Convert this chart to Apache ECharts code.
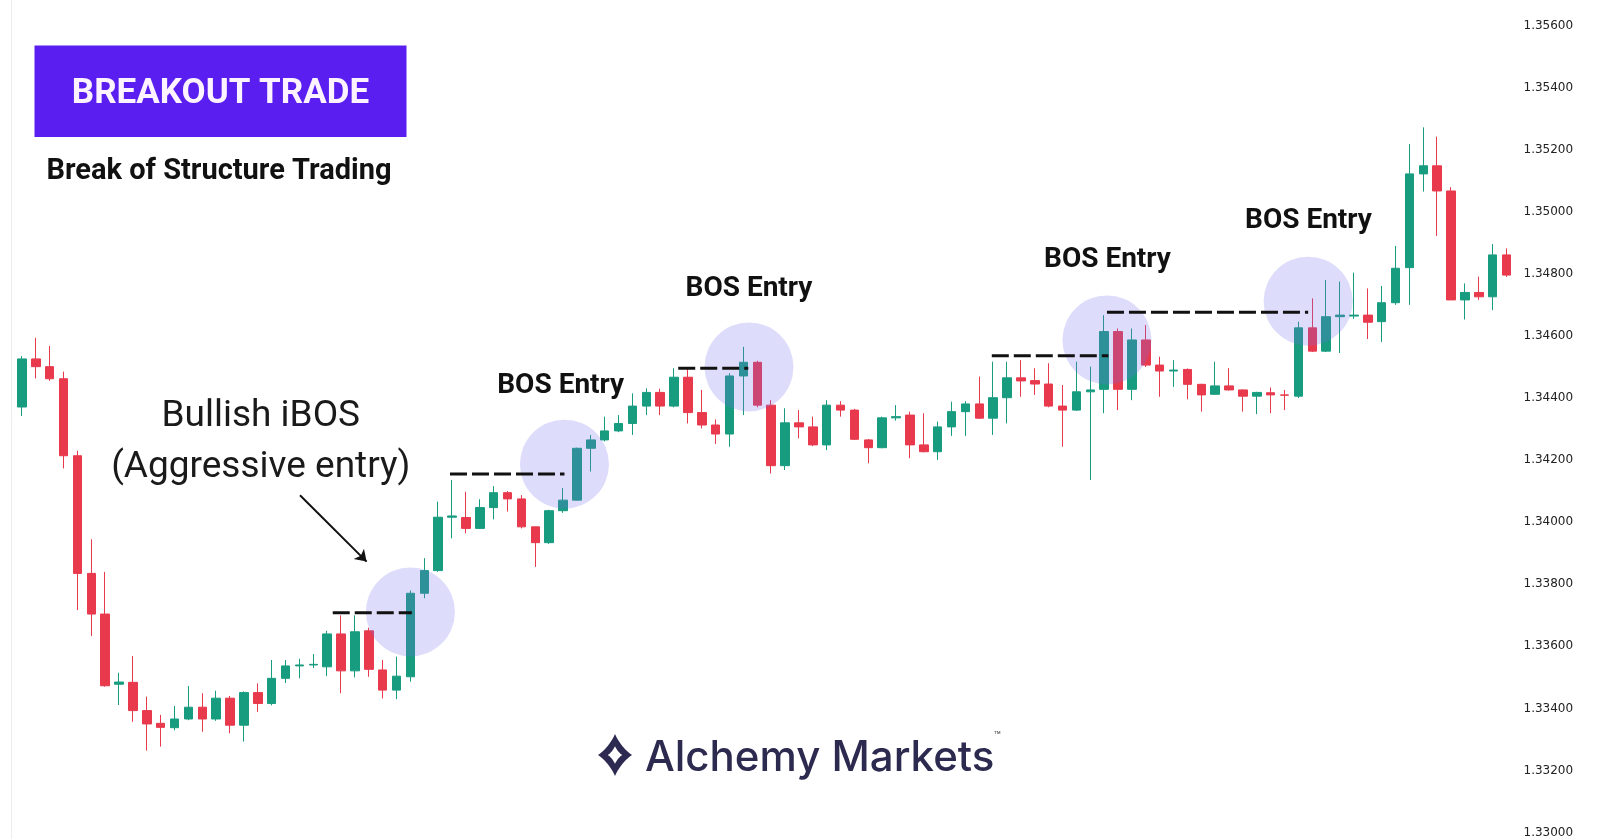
<!DOCTYPE html>
<html>
<head>
<meta charset="utf-8">
<script src="https://cdn.jsdelivr.net/npm/echarts@6/dist/echarts.min.js"></script>
<style>
html,body{margin:0;padding:0;background:#fff;}
#chart{width:1600px;height:839px;}
</style>
</head>
<body>
<div id="chart"></div>
<script>
// ---- price data (one entry per candle) ----
const openPrices = [
1.34371,1.34526,1.34501,1.34462,1.34214,1.33835,1.33704,1.33478,1.33484,1.33393,
1.33352,1.33338,1.33366,1.33404,1.33366,1.33433,1.33346,1.33451,1.33416,1.33497,
1.33537,1.33540,1.33534,1.33640,1.33521,1.33650,1.33524,1.33459,1.33502,1.33771,
1.33844,1.34016,1.34015,1.33980,1.34047,1.34095,1.34075,1.33985,1.33934,1.34037,
1.34071,1.34238,1.34265,1.34294,1.34318,1.34374,1.34418,1.34374,1.34467,1.34353,
1.34313,1.34284,1.34471,1.34515,1.34377,1.34182,1.34320,1.34307,1.34249,1.34377,
1.34361,1.34265,1.34240,1.34336,1.34345,1.34249,1.34227,1.34307,1.34356,1.34381,
1.34335,1.34401,1.34465,1.34456,1.34445,1.34374,1.34361,1.34420,1.34428,1.34614,
1.34428,1.34587,1.34506,1.34487,1.34492,1.34444,1.34412,1.34439,1.34426,1.34406,
1.34417,1.34410,1.34406,1.34626,1.34551,1.34662,1.34664,1.34667,1.34646,1.34707,
1.34820,1.35122,1.35148,1.35067,1.34716,1.34740,1.34726,1.34861];
const closePrices = [
1.34526,1.34501,1.34462,1.34214,1.33835,1.33704,1.33473,1.33485,1.33393,1.33350,
1.33339,1.33366,1.33404,1.33366,1.33433,1.33346,1.33451,1.33416,1.33497,1.33537,
1.33540,1.33542,1.33640,1.33521,1.33647,1.33526,1.33459,1.33504,1.33771,1.33844,
1.34016,1.34020,1.33980,1.34047,1.34095,1.34075,1.33985,1.33934,1.34037,1.34071,
1.34238,1.34265,1.34294,1.34318,1.34374,1.34418,1.34374,1.34467,1.34353,1.34313,
1.34284,1.34471,1.34515,1.34377,1.34182,1.34320,1.34307,1.34249,1.34377,1.34361,
1.34267,1.34240,1.34336,1.34340,1.34249,1.34227,1.34307,1.34356,1.34381,1.34335,
1.34401,1.34465,1.34455,1.34445,1.34374,1.34361,1.34420,1.34426,1.34614,1.34428,
1.34587,1.34506,1.34487,1.34490,1.34444,1.34410,1.34439,1.34426,1.34406,1.34418,
1.34410,1.34409,1.34626,1.34551,1.34662,1.34667,1.34667,1.34644,1.34707,1.34818,
1.35122,1.35148,1.35067,1.34716,1.34740,1.34726,1.34861,1.34796];
const lowPrices = [
1.34342,1.34463,1.34455,1.34173,1.33717,1.33633,1.33470,1.33411,1.33357,1.33264,
1.33277,1.33330,1.33362,1.33325,1.33360,1.33320,1.33293,1.33389,1.33410,1.33482,
1.33497,1.33530,1.33504,1.33449,1.33500,1.33502,1.33432,1.33430,1.33486,1.33755,
1.33840,1.33948,1.33964,1.33978,1.34009,1.34034,1.33980,1.33856,1.33930,1.34030,
1.34070,1.34163,1.34260,1.34290,1.34281,1.34345,1.34345,1.34370,1.34318,1.34302,
1.34252,1.34243,1.34345,1.34370,1.34157,1.34168,1.34270,1.34245,1.34232,1.34340,
1.34265,1.34190,1.34238,1.34327,1.34206,1.34225,1.34200,1.34278,1.34278,1.34333,
1.34281,1.34318,1.34404,1.34410,1.34370,1.34243,1.34358,1.34136,1.34351,1.34361,
1.34393,1.34500,1.34404,1.34436,1.34396,1.34356,1.34410,1.34424,1.34356,1.34348,
1.34351,1.34361,1.34400,1.34548,1.34548,1.34545,1.34655,1.34590,1.34580,1.34700,
1.34700,1.35065,1.34922,1.34716,1.34653,1.34716,1.34683,1.34790];
const highPrices = [
1.34535,1.34594,1.34568,1.34485,1.34230,1.33945,1.33840,1.33515,1.33569,1.33438,
1.33379,1.33408,1.33472,1.33449,1.33457,1.33440,1.33455,1.33481,1.33556,1.33556,
1.33560,1.33575,1.33650,1.33700,1.33700,1.33660,1.33556,1.33567,1.33780,1.33884,
1.34066,1.34136,1.34098,1.34074,1.34116,1.34100,1.34087,1.33985,1.34040,1.34110,
1.34240,1.34281,1.34340,1.34345,1.34415,1.34431,1.34430,1.34496,1.34496,1.34426,
1.34331,1.34480,1.34565,1.34520,1.34393,1.34367,1.34361,1.34340,1.34393,1.34390,
1.34365,1.34268,1.34340,1.34377,1.34356,1.34351,1.34324,1.34388,1.34390,1.34469,
1.34517,1.34517,1.34522,1.34496,1.34512,1.34442,1.34517,1.34501,1.34667,1.34624,
1.34624,1.34635,1.34533,1.34522,1.34495,1.34446,1.34517,1.34496,1.34428,1.34420,
1.34434,1.34426,1.34646,1.34721,1.34780,1.34775,1.34804,1.34753,1.34761,1.34890,
1.35218,1.35272,1.35242,1.35079,1.34769,1.34791,1.34896,1.34882];

// candle labels (bar numbers)
const categories = openPrices.map((_, i) => String(i + 1));

// y-axis ticks
const yMin = 1.330, yMax = 1.356, yStep = 0.002;

// annotations in data space: [bar position, price]
const entryCircles = [[28.0, 1.33711], [39.1, 1.34187], [52.4, 1.34500], [78.2, 1.34587], [92.7, 1.34712]];
// broken structure levels: [from bar, to bar, price]
const structureLevels = [[22.4, 28.1, 1.33708], [30.85, 39.1, 1.34155], [47.3, 52.35, 1.34496], [69.9, 78.3, 1.34536], [78.2, 92.7, 1.34676]];
const arrowFrom = [20.04, 1.34087];
const arrowTo = [24.84, 1.33873];

const UP = '#179c7f', DOWN = '#e8394d';

const chart = echarts.init(document.getElementById('chart'), null, {renderer: 'canvas'});

const candleData = openPrices.map((o, i) => [o, closePrices[i], lowPrices[i], highPrices[i]]);

const levelSeries = structureLevels.map(l => ({
  type: 'line', xAxisIndex: 1, yAxisIndex: 0,
  data: [[l[0], l[2]], [l[1], l[2]]],
  showSymbol: false, symbol: 'none', silent: true, z: 5,
  lineStyle: {color: '#111', width: 3, type: [17, 5]}
}));

function txt(text, x, y, font, fill) {
  return {type: 'text', silent: true, z: 100, style: {text, x, y, font, fill,
    textAlign: 'center', textVerticalAlign: 'middle', align: 'center', verticalAlign: 'middle'}};
}

// logo mark: concave four-point star
const cx = 615, cy = 755;
function starPoints(s) {
  const h = 21 * s, w = 17 * s, k = 0.36;
  const tips = [[cx, cy - h], [cx + w, cy], [cx, cy + h], [cx - w, cy]];
  const ctrl = [[cx + w * k, cy - h * k], [cx + w * k, cy + h * k], [cx - w * k, cy + h * k], [cx - w * k, cy - h * k]];
  const pts = [];
  for (let j = 0; j < 4; j++) {
    const a = tips[j], b = tips[(j + 1) % 4], c = ctrl[j];
    for (let t = 0; t < 1; t += 0.1) {
      const u = 1 - t;
      pts.push([u * u * a[0] + 2 * u * t * c[0] + t * t * b[0], u * u * a[1] + 2 * u * t * c[1] + t * t * b[1]]);
    }
  }
  return pts;
}

const option = {
  backgroundColor: '#ffffff',
  animation: false,
  grid: {left: 15, right: 86.5, top: 25.5, bottom: 6.4, containLabel: false},
  xAxis: [
    {type: 'category', data: categories, show: false, boundaryGap: true},
    {type: 'value', min: -0.5, max: 107.5, show: false}
  ],
  yAxis: {
    type: 'value', position: 'right', min: yMin, max: yMax, interval: yStep,
    axisLine: {show: false}, axisTick: {show: false}, splitLine: {show: false},
    axisLabel: {margin: 10, color: '#222', fontFamily: 'DejaVu Sans', fontSize: 12,
      formatter: v => v.toFixed(5)}
  },
  series: [
    {
      type: 'candlestick', xAxisIndex: 0, yAxisIndex: 0, data: candleData, barWidth: 9,
      itemStyle: {color: UP, color0: DOWN, borderColor: UP, borderColor0: DOWN, borderWidth: 1},
      z: 2
    },
    {
      type: 'scatter', xAxisIndex: 1, yAxisIndex: 0, data: entryCircles, symbol: 'circle',
      symbolSize: 89, silent: true, z: 3,
      itemStyle: {color: 'rgba(120,110,240,0.30)'}
    },
    ...levelSeries,
    {
      type: 'line', xAxisIndex: 1, yAxisIndex: 0, data: [], silent: true, z: 6,
      markLine: {
        silent: true, symbol: ['none', 'arrow'], symbolSize: 11,
        label: {show: false},
        lineStyle: {color: '#111', width: 2, type: 'solid'},
        data: [[{coord: arrowFrom}, {coord: arrowTo}]]
      }
    }
  ],
  graphic: [
    {type: 'line', silent: true, z: 0, shape: {x1: 11.5, y1: 0, x2: 11.5, y2: 839}, style: {stroke: '#ededed', lineWidth: 1}},
    {type: 'rect', silent: true, z: 99, shape: {x: 34.5, y: 45.5, width: 372, height: 91.5}, style: {fill: '#5a1ff0'}},
    txt('BREAKOUT TRADE', 220.5, 94, 'bold 35px Roboto', '#fdf2ff'),
    txt('Break of Structure Trading', 219, 172, 'bold 29px Roboto', '#111111'),
    txt('BOS Entry', 560.7, 386, 'bold 28px Roboto', '#111111'),
    txt('BOS Entry', 749, 289, 'bold 28px Roboto', '#111111'),
    txt('BOS Entry', 1107.5, 260, 'bold 28px Roboto', '#111111'),
    txt('BOS Entry', 1308.5, 221, 'bold 28px Roboto', '#111111'),
    txt('Bullish iBOS', 260.8, 417, '37px Roboto', '#1a1a1a'),
    txt('(Aggressive entry)', 260.8, 468, '37px Roboto', '#1a1a1a'),
    {type: 'polygon', silent: true, z: 100, shape: {points: starPoints(1)}, style: {fill: '#2d2a52'}},
    {type: 'polygon', silent: true, z: 101, shape: {points: starPoints(0.42)}, style: {fill: '#ffffff'}},
    {type: 'text', silent: true, z: 100, style: {text: 'Alchemy Markets', x: 645, y: 758,
      font: '500 42px Inter', fill: '#2d2a4f', textAlign: 'left', align: 'left', textVerticalAlign: 'middle', verticalAlign: 'middle'}},
    {type: 'text', silent: true, z: 100, style: {text: '\u2122', x: 994, y: 736,
      font: '11px Inter', fill: '#555', textAlign: 'left', align: 'left', textVerticalAlign: 'middle', verticalAlign: 'middle'}}
  ]
};

chart.setOption(option);
</script>
</body>
</html>
